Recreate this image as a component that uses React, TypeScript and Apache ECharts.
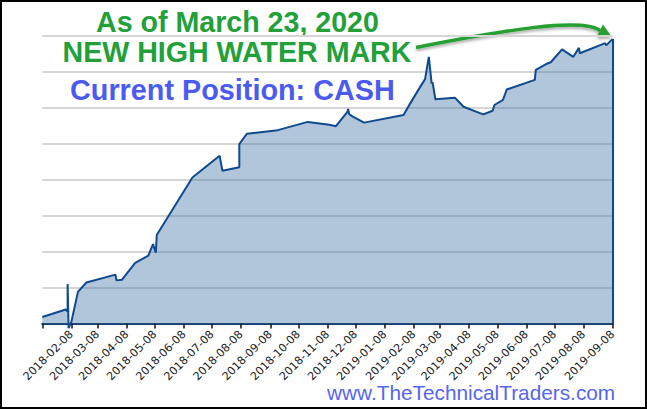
import React, { useEffect, useRef } from "react";
import * as echarts from "echarts";

// ---- data ----
const startDate = "2018-01-08";
const endDate = "2019-09-08";

const tickDates = [
  "2018-01-08", "2018-02-08", "2018-03-08", "2018-04-08", "2018-05-08", "2018-06-08",
  "2018-07-08", "2018-08-08", "2018-09-08", "2018-10-08", "2018-11-08", "2018-12-08",
  "2019-01-08", "2019-02-08", "2019-03-08", "2019-04-08", "2019-05-08", "2019-06-08",
  "2019-07-08", "2019-08-08", "2019-09-08",
];
const tickLabels = [
  "", "2018-02-08", "2018-03-08", "2018-04-08", "2018-05-08", "2018-06-08",
  "2018-07-08", "2018-08-08", "2018-09-08", "2018-10-08", "2018-11-08", "2018-12-08",
  "2019-01-08", "2019-02-08", "2019-03-08", "2019-04-08", "2019-05-08", "2019-06-08",
  "2019-07-08", "2019-08-08", "2019-09-08",
];

const dates = [
  "2018-01-08", "2018-02-02", "2018-02-04", "2018-02-04", "2018-02-05", "2018-02-08",
  "2018-02-15", "2018-02-24", "2018-03-27", "2018-03-28", "2018-04-03", "2018-04-17",
  "2018-05-01", "2018-05-06", "2018-05-09", "2018-05-10", "2018-06-17", "2018-07-16",
  "2018-07-19", "2018-08-06", "2018-08-06", "2018-08-14", "2018-09-16", "2018-10-18",
  "2018-11-10", "2018-11-17", "2018-11-29", "2018-11-30", "2018-12-01", "2018-12-04",
  "2018-12-17", "2019-01-28", "2019-02-05", "2019-02-14", "2019-02-20", "2019-02-24",
  "2019-02-27", "2019-02-28", "2019-03-03", "2019-03-24", "2019-04-02", "2019-04-23",
  "2019-05-03", "2019-05-05", "2019-05-14", "2019-05-18", "2019-06-17", "2019-06-18",
  "2019-06-29", "2019-07-04", "2019-07-16", "2019-07-28", "2019-08-03", "2019-08-04",
  "2019-08-31", "2019-09-01", "2019-09-08",
];
const values = [
  1.8, 3.9, 3.3, 11.0, -1.3, 0.5,
  8.8, 11.4, 13.6, 12.0, 12.2, 16.9,
  18.9, 22.1, 19.7, 24.6, 40.6, 46.7,
  42.5, 43.5, 49.9, 52.8, 53.8, 56.1,
  55.3, 54.9, 58.8, 59.7, 58.3, 57.7,
  55.9, 58.0, 61.6, 65.5, 68.0, 74.2,
  66.8, 67.1, 62.4, 62.8, 60.3, 58.2,
  59.2, 60.8, 62.2, 65.1, 67.8, 70.6,
  72.2, 72.7, 76.3, 74.2, 76.7, 75.2,
  78.0, 77.4, 79.2,
];

const titleLine1 = "As of March 23, 2020";
const titleLine2 = "NEW HIGH WATER MARK";
const positionText = "Current Position: CASH";
const siteText = "www.TheTechnicalTraders.com";

// ---- helpers ----
const toUTC = (s: string) => {
  const [y, m, d] = s.split("-").map(Number);
  return Date.UTC(y, m - 1, d);
};
const dayOf = (s: string) => Math.round((toUTC(s) - toUTC(startDate)) / 86400000);

export default function App() {
  const ref = useRef<HTMLDivElement>(null);

  useEffect(() => {
    if (!ref.current) return;
    const chart = echarts.init(ref.current, undefined, { renderer: "svg" });

    const tickValues = tickDates.map(dayOf);
    const seriesData = dates.map((d, i) => [dayOf(d), values[i]]);
    const last = seriesData[seriesData.length - 1];
    const font = '"Liberation Sans", Arial, Helvetica, sans-serif';

    chart.setOption({
      animation: false,
      backgroundColor: "#ffffff",
      grid: { left: 42.3, top: 36, width: 570.4, height: 287.5, containLabel: false },
      xAxis: {
        type: "value",
        min: 0,
        max: dayOf(endDate),
        axisLine: { show: true, lineStyle: { color: "#173f72", width: 2 } },
        axisTick: {
          show: true,
          customValues: tickValues,
          length: 5,
          lineStyle: { color: "#111111", width: 1.5 },
        },
        axisLabel: {
          show: true,
          customValues: tickValues,
          rotate: 45,
          margin: 9,
          fontSize: 11.2,
          fontFamily: '"DejaVu Sans", Verdana, sans-serif',
          color: "#222222",
          formatter: (v: number) => {
            const i = tickValues.indexOf(Math.round(v));
            return i >= 0 ? tickLabels[i] : "";
          },
        },
        splitLine: { show: false },
      },
      yAxis: {
        type: "value",
        min: 0,
        max: 80,
        interval: 10,
        axisLine: { show: false },
        axisTick: { show: false },
        axisLabel: { show: false },
        splitLine: { show: true, lineStyle: { color: "#d6d6d6", width: 2 } },
      },
      series: [
        {
          type: "line",
          data: seriesData,
          showSymbol: false,
          symbol: "none",
          clip: false,
          lineStyle: { color: "#0f4a8e", width: 2 },
          areaStyle: { color: "rgb(70,120,170)", opacity: 0.42, origin: "start" },
          markLine: {
            silent: true,
            symbol: ["none", "none"],
            label: { show: false },
            lineStyle: { color: "#0f4a8e", width: 2, type: "solid" },
            data: [[{ coord: [last[0], 0] }, { coord: [last[0], last[1]] }]],
          },
        },
      ],
      graphic: [
        {
          type: "rect",
          shape: { x: 52, y: 8, width: 368, height: 58 },
          style: { fill: "#ffffff" },
          silent: true,
        },
        {
          type: "text",
          x: 96,
          y: 21.5,
          style: {
            text: titleLine1,
            fill: "#22a03a",
            fontSize: 28.6,
            fontWeight: "bold",
            fontFamily: font,
            align: "left",
            verticalAlign: "middle",
          },
        },
        {
          type: "text",
          x: 62.5,
          y: 51.5,
          style: {
            text: titleLine2,
            fill: "#22a03a",
            fontSize: 28.6,
            fontWeight: "bold",
            fontFamily: font,
            align: "left",
            verticalAlign: "middle",
          },
        },
        {
          type: "text",
          x: 70,
          y: 90,
          style: {
            text: positionText,
            fill: "#4b5bf2",
            fontSize: 28.8,
            fontWeight: "bold",
            fontFamily: font,
            align: "left",
            verticalAlign: "middle",
          },
        },
        {
          type: "bezierCurve",
          shape: { x1: 416, y1: 47.5, cpx1: 505, cpy1: 30, cpx2: 582, cpy2: 17, x2: 600, y2: 30.5 },
          style: {
            stroke: "#28a032",
            lineWidth: 3.5,
            fill: "none",
            shadowColor: "rgba(0,0,0,0.35)",
            shadowBlur: 3,
            shadowOffsetY: 2,
          },
          silent: true,
        },
        {
          type: "polygon",
          shape: { points: [[603, 24.5], [611.5, 36.5], [596.5, 37]] },
          style: {
            fill: "#28a032",
            shadowColor: "rgba(0,0,0,0.35)",
            shadowBlur: 3,
            shadowOffsetY: 2,
          },
          silent: true,
        },
        {
          type: "text",
          x: 327,
          y: 392,
          style: {
            text: siteText,
            fill: "#5566ee",
            fontSize: 20.8,
            fontFamily: font,
            align: "left",
            verticalAlign: "middle",
          },
        },
        {
          type: "rect",
          shape: { x: 1, y: 1, width: 645, height: 407 },
          style: { fill: "none", stroke: "#000000", lineWidth: 2 },
          silent: true,
        },
      ],
    });

    return () => chart.dispose();
  }, []);

  return (
    <div
      ref={ref}
      style={{ position: "fixed", left: 0, top: 0, width: 647, height: 409, background: "#fff" }}
    />
  );
}
